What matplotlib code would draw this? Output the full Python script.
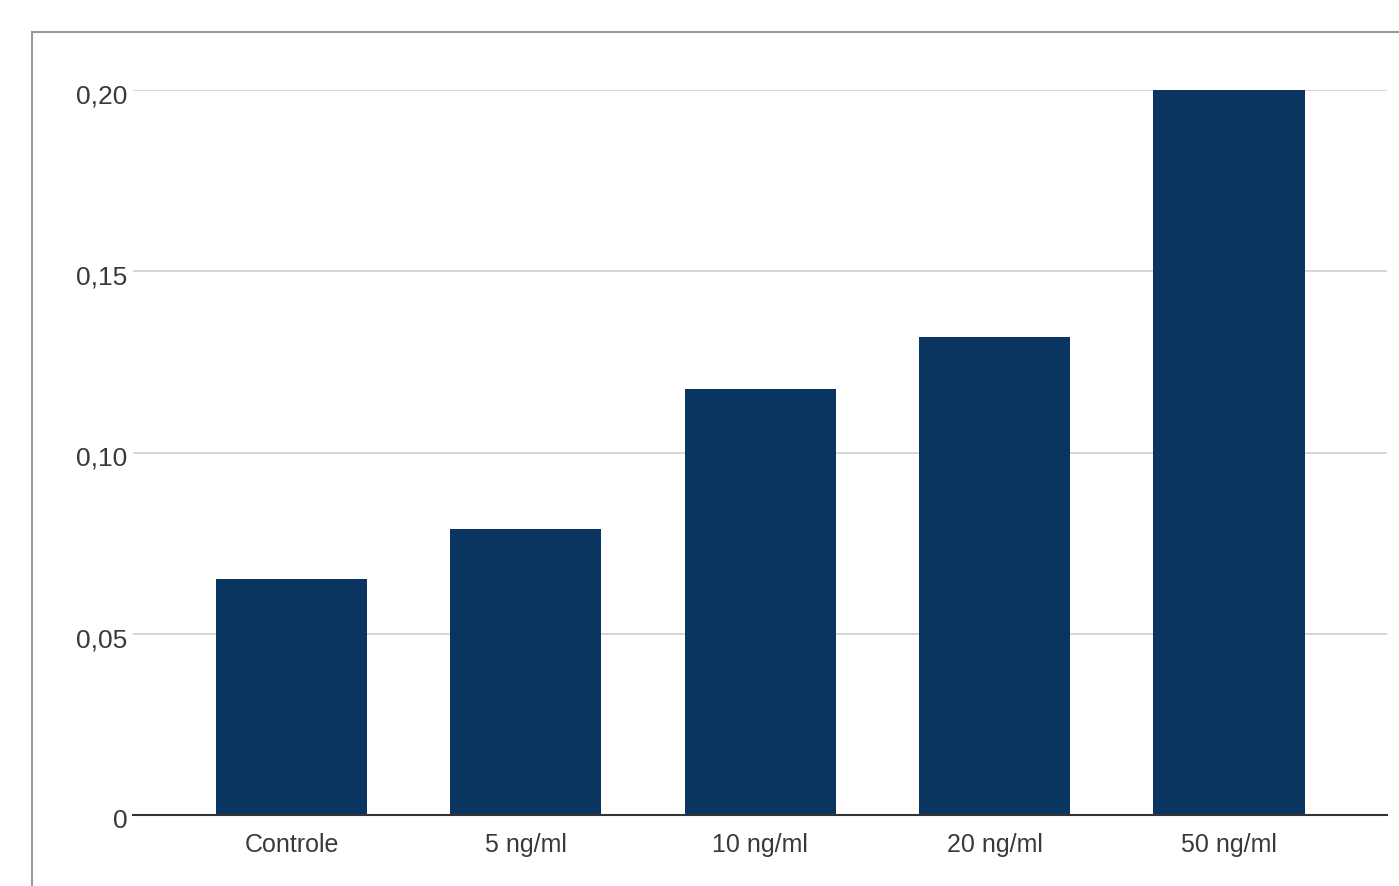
import matplotlib.pyplot as plt
import matplotlib.transforms as mtransforms
from matplotlib.patches import Rectangle

# Chart data
categories = ['Controle', '5 ng/ml', '10 ng/ml', '20 ng/ml', '50 ng/ml']
values = [0.065, 0.079, 0.1175, 0.132, 0.200]
y_ticks = [0, 0.05, 0.10, 0.15, 0.20]
y_tick_labels = ['0', '0,05', '0,10', '0,15', '0,20']

# Figure size in pixels
W, H = 1399, 887
bar_color = '#0a3560'
text_color = '#3a3a3a'

plt.rcParams['font.family'] = ['Liberation Sans', 'DejaVu Sans']

fig = plt.figure(figsize=(W / 100, H / 100), dpi=100)
fig.patch.set_facecolor('white')

# Outer frame (cut off at right and bottom)
frame = Rectangle((32 / W, -0.2), 2.0, 1.2 - 33 / H, transform=fig.transFigure,
                  fill=False, edgecolor='#9a9a9a', linewidth=1.5)
fig.add_artist(frame)

# Plot area
ax_left = 133 / W
ax_right = 1387 / W
ax_bottom = (H - 816) / H
ax_top = (H - 91) / H
ax = fig.add_axes([ax_left, ax_bottom, ax_right - ax_left, ax_top - ax_bottom])

x = list(range(len(categories)))
ax.bar(x, values, width=0.645, color=bar_color, zorder=3)

ax.set_xlim(-0.676, 4.674)
ax.set_ylim(0, 0.2)

# Gridlines
ax.set_yticks(y_ticks)
ax.set_yticklabels(y_tick_labels)
ax.yaxis.grid(True, color='#cccccc', linewidth=1.1, zorder=0)
ax.set_axisbelow(True)

ax.set_xticks(x)
ax.set_xticklabels(categories)

for s in ['top', 'right', 'left']:
    ax.spines[s].set_visible(False)
ax.spines['bottom'].set_color('#333333')
ax.spines['bottom'].set_linewidth(1.5)
ax.spines['bottom'].set_zorder(4)

ax.tick_params(axis='y', length=0, pad=4, labelsize=19, labelcolor=text_color)
ax.tick_params(axis='x', length=0, pad=12, labelsize=18, labelcolor=text_color)
ax.set_facecolor('none')

# Nudge y labels slightly down, as in the reference
shift = mtransforms.ScaledTranslation(0, -3 / 100, fig.dpi_scale_trans)
for lab in ax.get_yticklabels():
    lab.set_transform(lab.get_transform() + shift)

plt.savefig('out.png', dpi=100)
